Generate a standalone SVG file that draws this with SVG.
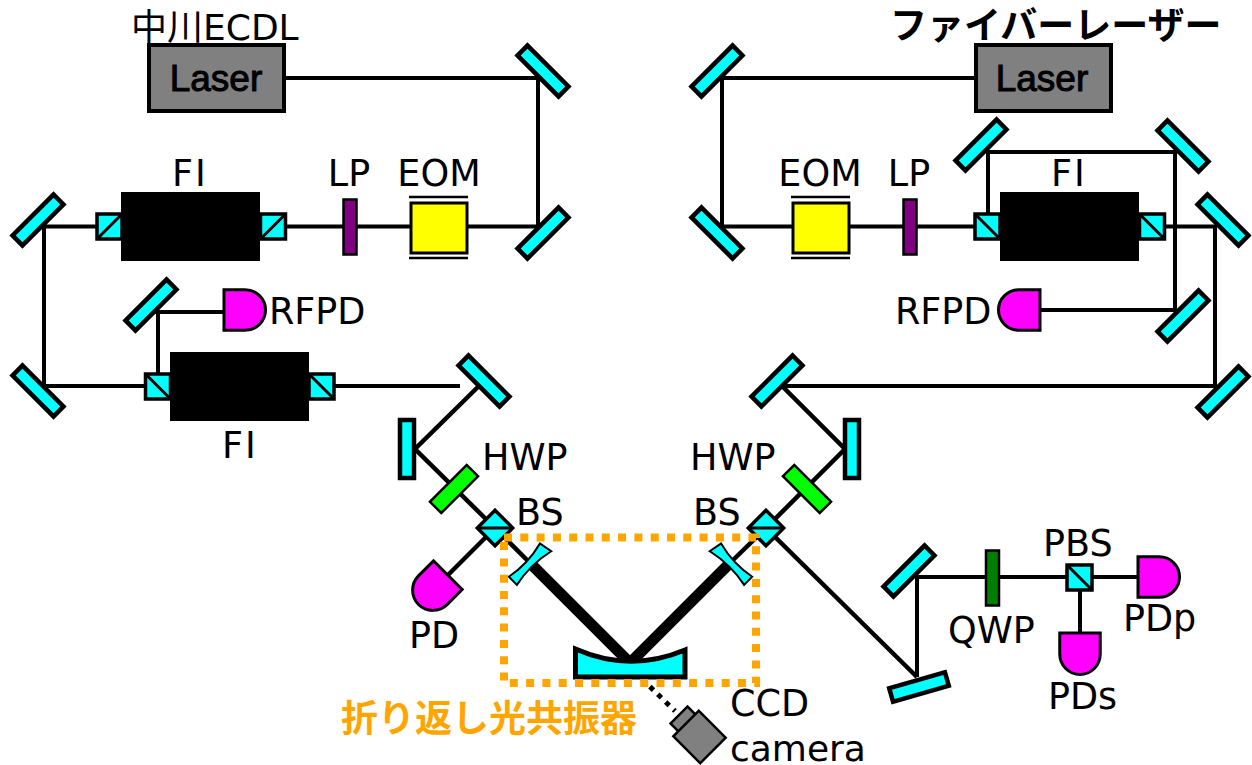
<svg xmlns="http://www.w3.org/2000/svg" width="1252" height="765" viewBox="0 0 1252 765">
<style>
.b{fill:none;stroke:#000;stroke-width:4}
.m{fill:#0ff;stroke:#000;stroke-width:4.5}
.c{fill:#0ff;stroke:#000;stroke-width:3.5}
.pd{fill:#f0f;stroke:#000;stroke-width:3}
.t{font-family:"DejaVu Sans","Noto Sans CJK JP",sans-serif;font-size:36.500px;fill:#000}
.fb{letter-spacing:2px}
.las{fill:#808080;stroke:#000;stroke-width:4}
.lt{font-family:"Liberation Sans",Arial,sans-serif;font-size:37px;fill:#000;stroke:#000;stroke-width:1;text-anchor:middle}
.fi{fill:#000}
.lp{fill:#800080;stroke:#000;stroke-width:2.500}
.eom{fill:#ff0;stroke:#000;stroke-width:3}
.hw{fill:#0f0;stroke:#000;stroke-width:2.500}
.cam{fill:#808080;stroke:#000;stroke-width:2.500}
</style>
<defs>
<rect id="mir" x="-29" y="-7" width="58" height="14" class="m"/>
<path id="pdshape" d="M-21-20.250H0A20.500 20.250 0 0 1 0 20.250H-21Z" class="pd"/>
<g id="pbs1"><rect x="-12.500" y="-12.500" width="25" height="25" class="c"/><path d="M-12.500 12.500L12.500-12.500" class="b" style="stroke-width:3"/></g>
<g id="pbs2"><rect x="-12.500" y="-12.500" width="25" height="25" class="c"/><path d="M-12.500-12.500L12.500 12.500" class="b" style="stroke-width:3"/></g>
<g id="bs"><rect x="-12.500" y="-12.500" width="25" height="25" class="c" transform="rotate(45)"/><path d="M-18 0H18" class="b" style="stroke-width:3"/></g>
<path id="cm2" d="M-24-6Q-1-1.500 21.500-7.500L24 6Q0 0.500-24 5.500Z" fill="#0ff" stroke="#000" stroke-width="2"/>
</defs>
<g id="connectors" class="b">
<path d="M285 78H538V226.500M538 226.500H44V386H145M172 386H460M158 386V312H223M158 312H135"/>
<path d="M484 381L415 449L495 528M495 528L448 575M495 528L530 563" style="stroke-width:4.500"/>
<path d="M975 78H722V226.500H975M975 226.500H1215V386H780"/>
<path d="M777 381L845 449L766 528L917 677" style="stroke-width:4.500"/>
<path d="M917 677V577H1140M1080 577V633"/>
<path d="M988 226V152H1175V310H1038"/>
<path d="M530 563L630 663L730 563" style="stroke-width:11"/>
<path d="M766 528L730 563" style="stroke-width:4.500"/>
<path d="M642 679L675 711" style="stroke-width:5;stroke-dasharray:5 6"/>
</g>
<g id="laser-left"><rect x="149" y="45" width="135" height="66" class="las"/><text x="216" y="91" class="lt">Laser</text></g>
<g id="laser-right"><rect x="976" y="45" width="135" height="66" class="las"/><text x="1042" y="91" class="lt">Laser</text></g>
<g id="label-ecdl"><text x="131" y="40" class="t" style="font-size:36px">中川ECDL</text></g>
<g id="label-fiber"><text x="890" y="39" font-family="Noto Sans CJK JP,sans-serif" font-size="37" font-weight="700" fill="#000">ファイバーレーザー</text></g>
<g id="mirrors">
<use href="#mir" transform="translate(543 71) rotate(45)"/>
<use href="#mir" transform="translate(543 233) rotate(-45)"/>
<use href="#mir" transform="translate(38 220) rotate(-45)"/>
<use href="#mir" transform="translate(38 391) rotate(45)"/>
<use href="#mir" transform="translate(151 305) rotate(-45)"/>
<use href="#mir" transform="translate(484 381) rotate(45)"/>
<use href="#mir" transform="translate(407 449) rotate(90)"/>
<use href="#mir" transform="translate(717 71) rotate(-45)"/>
<use href="#mir" transform="translate(717 233) rotate(45)"/>
<use href="#mir" transform="translate(981 145) rotate(-45)"/>
<use href="#mir" transform="translate(1183 146) rotate(45)"/>
<use href="#mir" transform="translate(1223 220) rotate(45)"/>
<use href="#mir" transform="translate(1183 316) rotate(-45)"/>
<use href="#mir" transform="translate(1223 392) rotate(-45)"/>
<use href="#mir" transform="translate(777 381) rotate(-45)"/>
<use href="#mir" transform="translate(852 449) rotate(90)"/>
<use href="#mir" transform="translate(909 571) rotate(-45)"/>
<use href="#mir" transform="translate(919 687) rotate(-16)"/>
</g>
<g id="fi-top-left"><use href="#pbs1" x="109.500" y="226.500"/><use href="#pbs1" x="273" y="226.500"/><rect x="121" y="192" width="139" height="69" class="fi"/><text x="190" y="186" class="t fb" text-anchor="middle">FI</text></g>
<g id="fi-bottom-left"><use href="#pbs2" x="158" y="386.500"/><use href="#pbs2" x="321.500" y="386.500"/><rect x="170" y="352" width="139" height="69" class="fi"/><text x="240" y="458" class="t fb" text-anchor="middle">FI</text></g>
<g id="fi-right"><use href="#pbs2" x="987.500" y="226.500"/><use href="#pbs2" x="1152" y="226.500"/><rect x="1000" y="192" width="139" height="69" class="fi"/><text x="1069" y="186" class="t fb" text-anchor="middle">FI</text></g>
<g id="lp-left"><rect x="343.500" y="199.500" width="13" height="55" class="lp"/><text x="349" y="186" class="t" text-anchor="middle">LP</text></g>
<g id="lp-right"><rect x="903.500" y="199.500" width="13" height="55" class="lp"/><text x="909" y="186" class="t" text-anchor="middle">LP</text></g>
<g id="eom-left"><rect x="411" y="203" width="56" height="50" class="eom"/><path d="M409 197H468M409 258H468" class="b" style="stroke-width:2.500"/><text x="439" y="186" class="t" text-anchor="middle">EOM</text></g>
<g id="eom-right"><rect x="793" y="203" width="56" height="50" class="eom"/><path d="M791 197H850M791 258H850" class="b" style="stroke-width:2.500"/><text x="820" y="186" class="t" text-anchor="middle">EOM</text></g>
<g id="rfpd-left"><use href="#pdshape" transform="translate(245 310)"/><text x="269" y="324" class="t">RFPD</text></g>
<g id="rfpd-right"><use href="#pdshape" transform="translate(1019 310) rotate(180)"/><text x="895" y="324" class="t">RFPD</text></g>
<g id="hwp-left"><rect x="-26" y="-8" width="52" height="16" class="hw" transform="translate(454 489) rotate(-45)"/><text x="482" y="470" class="t">HWP</text></g>
<g id="hwp-right"><rect x="-26" y="-8" width="52" height="16" class="hw" transform="translate(807 489) rotate(45)"/><text x="690" y="470" class="t">HWP</text></g>
<g id="bs-left"><use href="#bs" x="495" y="528"/><text x="516" y="525" class="t">BS</text></g>
<g id="bs-right"><use href="#bs" x="766" y="528"/><text x="693" y="525" class="t">BS</text></g>
<g id="pd"><use href="#pdshape" transform="translate(433 590) rotate(135)"/><text x="409" y="648" class="t">PD</text></g>
<g id="curved-left"><use href="#cm2" transform="translate(530 564) rotate(-45)"/></g>
<g id="curved-right"><use href="#cm2" transform="translate(731 564) scale(-1 1) rotate(-45)"/></g>
<g id="mirror-bottom"><path d="M575.500 649Q630 673 685 650V677H575.500Z" fill="#0ff" stroke="#000" stroke-width="5"/></g>
<g id="cavity"><rect x="504" y="537.500" width="252" height="145.500" fill="none" stroke="#ffa500" stroke-width="8" stroke-dasharray="8 8.300"/><text x="341" y="732" font-family="Noto Sans CJK JP,sans-serif" font-size="37" font-weight="700" fill="#ffa500">折り返し光共振器</text></g>
<g id="ccd"><rect x="-12" y="-7" width="24" height="14" class="cam" transform="translate(684 720) rotate(-45)"/><rect x="-18" y="-19" width="36" height="38" class="cam" transform="translate(699.500 737) rotate(-45)"/><text x="730" y="716" class="t">CCD</text><text x="730" y="761" class="t" style="font-size:36px">camera</text></g>
<g id="qwp"><rect x="986" y="550.500" width="13" height="55" fill="#008000" stroke="#000" stroke-width="2.500"/><text x="948" y="643" class="t">QWP</text></g>
<g id="pbs"><use href="#pbs2" x="1079.500" y="577.500"/><text x="1043" y="556" class="t">PBS</text></g>
<g id="pdp"><use href="#pdshape" transform="translate(1159 577)"/><text x="1123" y="631" class="t">PDp</text></g>
<g id="pds"><use href="#pdshape" transform="translate(1080 654) rotate(90)"/><text x="1048" y="709" class="t">PDs</text></g>
</svg>
